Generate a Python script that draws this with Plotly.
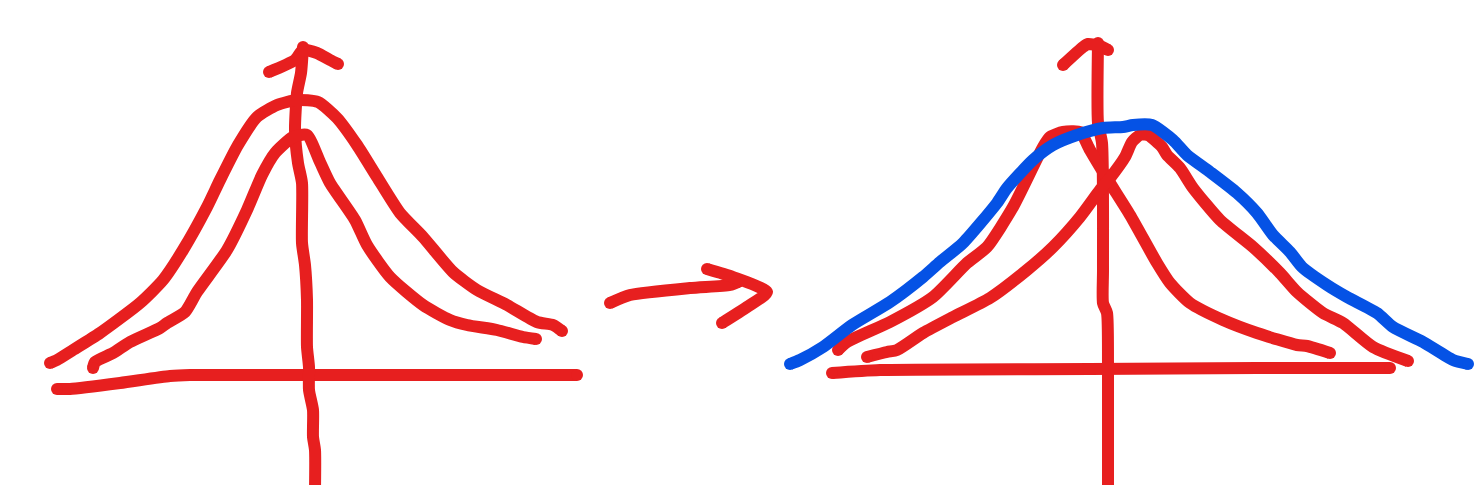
import plotly.graph_objects as go

# --- left sketch ---
left_axis_h_x = [57, 70, 120, 170, 190, 300, 577]
left_axis_h_y = [389, 389, 383, 376, 375, 375, 375]
left_axis_v_x = [303, 301, 297, 295, 298, 302, 302, 305, 307, 307, 309, 309, 313, 313, 315, 315]
left_axis_v_y = [47, 73, 93, 130, 163, 183, 243, 265, 300, 347, 367, 390, 410, 437, 450, 490]
left_head_x = [269, 295, 303, 317, 330, 338]
left_head_y = [72, 60, 50, 53, 60, 64]
left_outer_x = [50, 57, 73, 100, 140, 163, 183, 207, 220, 238, 257, 277, 297, 318, 337, 357, 377, 400, 423, 453, 477, 507, 537, 553, 562]
left_outer_y = [363, 360, 350, 333, 303, 280, 250, 207, 180, 145, 117, 105, 100, 102, 118, 145, 177, 213, 237, 272, 290, 305, 322, 325, 331]
left_inner_x = [93, 95, 113, 130, 160, 167, 185, 197, 227, 247, 262, 275, 293, 307, 320, 330, 355, 367, 390, 423, 450, 467, 497, 523, 536]
left_inner_y = [368, 362, 353, 342, 328, 323, 312, 292, 250, 210, 175, 153, 137, 135, 162, 183, 220, 245, 277, 305, 320, 325, 330, 337, 339]

# --- arrow between the sketches ---
arrow_shaft_x = [610, 630, 690, 730, 738]
arrow_shaft_y = [303, 295, 288, 285, 282]
arrow_head_x = [707, 733, 767, 747, 722]
arrow_head_y = [269, 277, 292, 307, 323]

# --- right sketch ---
right_axis_h_x = [832, 880, 1090, 1257, 1390]
right_axis_h_y = [373, 370, 369, 368, 368]
right_axis_v_x = [1098, 1098, 1102, 1103, 1103, 1107, 1108, 1108]
right_axis_v_y = [43, 123, 143, 270, 303, 313, 363, 490]
right_head_x = [1063, 1083, 1088, 1100, 1108]
right_head_y = [65, 47, 44, 46, 50]
right_falling_x = [838, 847, 890, 933, 967, 987, 1013, 1043, 1050, 1063, 1080, 1090, 1108, 1130, 1157, 1170, 1190, 1223, 1257, 1297, 1307, 1330]
right_falling_y = [350, 342, 322, 297, 263, 247, 207, 147, 137, 132, 132, 150, 180, 215, 263, 283, 303, 320, 333, 345, 346, 353]
right_rising_x = [867, 887, 897, 923, 953, 990, 1027, 1053, 1080, 1100, 1110, 1125, 1132, 1140, 1148, 1162, 1167, 1180, 1193, 1220, 1253, 1280, 1297, 1323, 1343, 1373, 1408]
right_rising_y = [357, 352, 350, 333, 317, 298, 270, 247, 217, 190, 178, 157, 142, 135, 135, 147, 155, 168, 188, 220, 247, 273, 292, 313, 323, 347, 361]
blue_x = [790, 800, 823, 852, 890, 923, 940, 963, 997, 1007, 1033, 1053, 1077, 1103, 1123, 1133, 1152, 1173, 1187, 1210, 1237, 1257, 1273, 1290, 1302, 1327, 1347, 1377, 1393, 1423, 1453, 1468]
blue_y = [364, 360, 347, 325, 302, 277, 262, 243, 203, 188, 160, 145, 135, 128, 127, 125, 125, 140, 155, 172, 193, 213, 235, 252, 267, 285, 297, 313, 327, 342, 360, 364]

RED = "#E71F1F"
BLUE = "#0552E5"
WIDTH = 12

strokes = [
    ("left horizontal", left_axis_h_x, left_axis_h_y, RED),
    ("left vertical", left_axis_v_x, left_axis_v_y, RED),
    ("left head", left_head_x, left_head_y, RED),
    ("left outer", left_outer_x, left_outer_y, RED),
    ("left inner", left_inner_x, left_inner_y, RED),
    ("arrow shaft", arrow_shaft_x, arrow_shaft_y, RED),
    ("arrow head", arrow_head_x, arrow_head_y, RED),
    ("right horizontal", right_axis_h_x, right_axis_h_y, RED),
    ("right vertical", right_axis_v_x, right_axis_v_y, RED),
    ("right head", right_head_x, right_head_y, RED),
    ("right falling", right_falling_x, right_falling_y, RED),
    ("right rising", right_rising_x, right_rising_y, RED),
    ("blue curve", blue_x, blue_y, BLUE),
]

fig = go.Figure()
for name, xs, ys, colour in strokes:
    sizes = [WIDTH] + [0] * (len(xs) - 2) + [WIDTH]  # round pen ends
    fig.add_trace(go.Scatter(
        x=xs, y=ys, name=name, mode="lines+markers",
        line=dict(color=colour, width=WIDTH, shape="spline", smoothing=0.6),
        marker=dict(color=colour, size=sizes, opacity=1, line=dict(width=0)),
        hoverinfo="skip",
    ))

fig.update_layout(
    width=1478, height=485,
    margin=dict(l=0, r=0, t=0, b=0),
    paper_bgcolor="white", plot_bgcolor="white",
    showlegend=False,
    xaxis=dict(visible=False, range=[0, 1478], fixedrange=True),
    yaxis=dict(visible=False, range=[485, 0], fixedrange=True),
)
fig.write_html("out.html", config={"displayModeBar": False},
               post_script="document.body.style.margin='0';")
